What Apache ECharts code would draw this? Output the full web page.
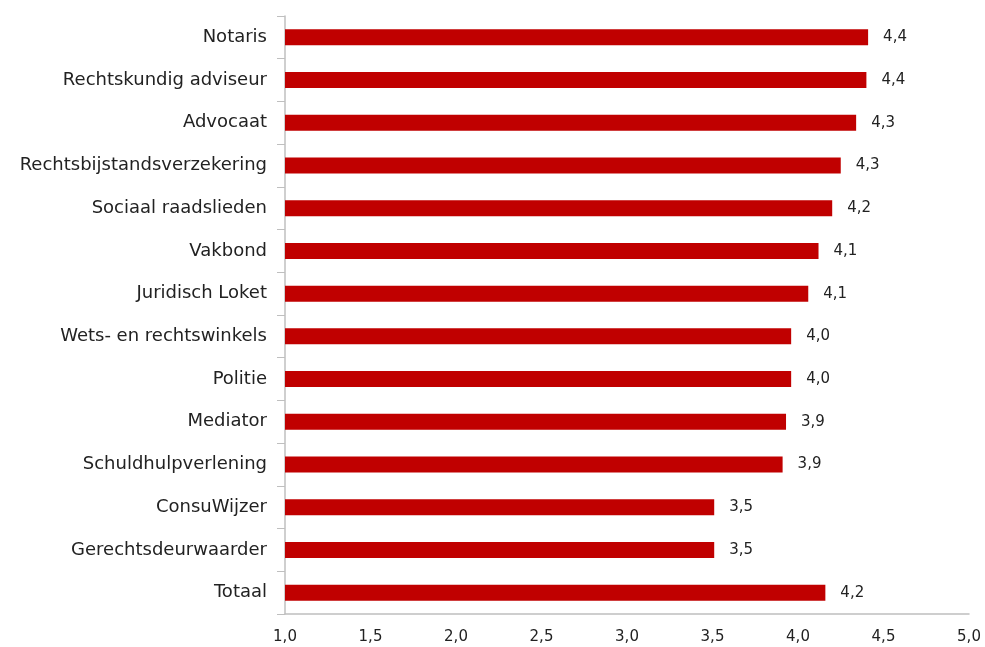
<!DOCTYPE html>
<html>
<head>
<meta charset="utf-8">
<script src="https://cdn.jsdelivr.net/npm/echarts@6/dist/echarts.min.js"></script>
<style>html,body{margin:0;padding:0;background:#fff}#c{width:985px;height:647px}</style>
</head>
<body>
<div id="c"></div>
<script>
const categories = ["Notaris","Rechtskundig adviseur","Advocaat","Rechtsbijstandsverzekering","Sociaal raadslieden","Vakbond","Juridisch Loket","Wets- en rechtswinkels","Politie","Mediator","Schuldhulpverlening","ConsuWijzer","Gerechtsdeurwaarder","Totaal"];
const values = [4.41, 4.40, 4.34, 4.25, 4.20, 4.12, 4.06, 3.96, 3.96, 3.93, 3.91, 3.51, 3.51, 4.16];
const xTicks = [1.0, 1.5, 2.0, 2.5, 3.0, 3.5, 4.0, 4.5, 5.0];

const chart = echarts.init(document.getElementById('c'));
const font = 'Verdana, "DejaVu Sans", sans-serif';
chart.setOption({
  animation: false,
  grid: {left: 285, right: 16, top: 16, bottom: 33},
  xAxis: {
    type: 'value', min: xTicks[0], max: xTicks[xTicks.length-1], interval: 0.5,
    axisLine: {show: true, lineStyle: {color: '#BFBFBF', width: 1.5}},
    axisTick: {show: false},
    splitLine: {show: false},
    axisLabel: {color: '#222', fontFamily: font, fontSize: 15, margin: 16,
      formatter: v => v.toFixed(1).replace('.', ',')}
  },
  yAxis: {
    type: 'category', data: categories, inverse: true,
    axisLine: {show: true, lineStyle: {color: '#BFBFBF', width: 1.5}},
    axisTick: {show: true, length: 8, lineStyle: {color: '#BFBFBF'}},
    axisLabel: {color: '#222', fontFamily: font, fontSize: 18, margin: 18}
  },
  series: [{
    type: 'bar', data: values, barWidth: 16,
    itemStyle: {color: '#C00000'},
    label: {show: true, position: 'right', distance: 15, color: '#222', fontFamily: font, fontSize: 15,
      formatter: p => p.value.toFixed(1).replace('.', ',')}
  }]
});
</script>
</body>
</html>
